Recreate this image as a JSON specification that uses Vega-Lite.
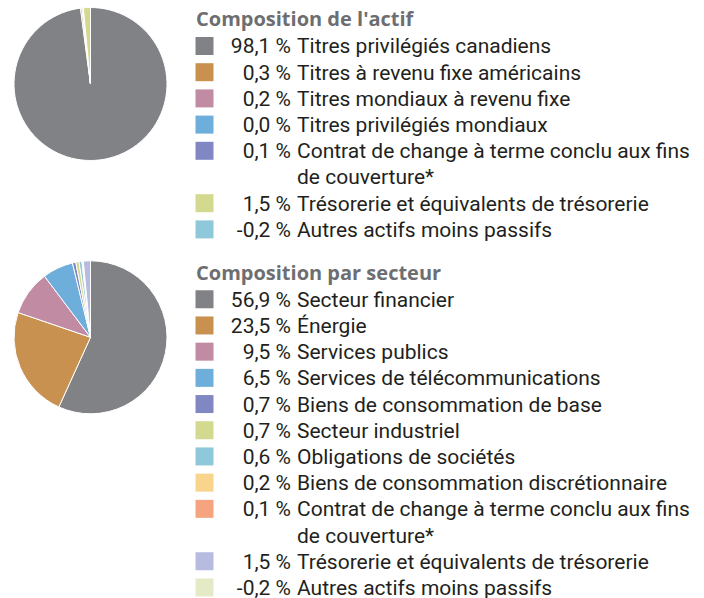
{
  "$schema": "https://vega.github.io/schema/vega-lite/v6.json",
  "padding": 0,
  "background": "white",
  "config": {
    "view": {"stroke": null},
    "font": "Roboto",
    "locale": {"number": {"decimal": ",", "thousands": " ", "grouping": [3], "currency": ["", " %"], "minus": "-"}}
  },
  "datasets": {
    "actif": [
      {"rang": 1, "categorie": "Titres privilégiés canadiens", "pct": 98.1},
      {"rang": 2, "categorie": "Titres à revenu fixe américains", "pct": 0.3},
      {"rang": 3, "categorie": "Titres mondiaux à revenu fixe", "pct": 0.2},
      {"rang": 4, "categorie": "Titres privilégiés mondiaux", "pct": 0.0},
      {"rang": 5, "categorie": "Contrat de change à terme conclu aux fins\nde couverture*", "pct": 0.1},
      {"rang": 6, "categorie": "Trésorerie et équivalents de trésorerie", "pct": 1.5},
      {"rang": 7, "categorie": "Autres actifs moins passifs", "pct": -0.2}
    ],
    "secteur": [
      {"rang": 1, "categorie": "Secteur financier", "pct": 56.9},
      {"rang": 2, "categorie": "Énergie", "pct": 23.5},
      {"rang": 3, "categorie": "Services publics", "pct": 9.5},
      {"rang": 4, "categorie": "Services de télécommunications", "pct": 6.5},
      {"rang": 5, "categorie": "Biens de consommation de base", "pct": 0.7},
      {"rang": 6, "categorie": "Secteur industriel", "pct": 0.7},
      {"rang": 7, "categorie": "Obligations de sociétés", "pct": 0.6},
      {"rang": 8, "categorie": "Biens de consommation discrétionnaire", "pct": 0.2},
      {"rang": 9, "categorie": "Contrat de change à terme conclu aux fins\nde couverture*", "pct": 0.1},
      {"rang": 10, "categorie": "Trésorerie et équivalents de trésorerie", "pct": 1.5},
      {"rang": 11, "categorie": "Autres actifs moins passifs", "pct": -0.2}
    ]
  },
  "columns": 2,
  "spacing": {"row": 11.8, "column": 0},
  "bounds": "flush",
  "resolve": {"scale": {"color": "independent", "x": "independent", "y": "independent", "theta": "independent"}},
  "concat": [
    {
      "data": {"name": "actif"},
      "width": 181,
      "height": 168,
      "transform": [{"filter": "datum.pct > 0"}],
      "mark": {"type": "arc", "outerRadius": 76.5, "stroke": "white", "strokeWidth": 1},
      "encoding": {
        "theta": {"field": "pct", "type": "quantitative", "stack": true},
        "order": {"field": "rang", "type": "quantitative"},
        "color": {"field": "categorie", "type": "nominal", "legend": null,
          "scale": {"domain": ["Titres privilégiés canadiens", "Titres à revenu fixe américains", "Titres mondiaux à revenu fixe", "Titres privilégiés mondiaux", "Contrat de change à terme conclu aux fins\nde couverture*", "Trésorerie et équivalents de trésorerie", "Autres actifs moins passifs"],
            "range": ["#818286", "#c8914f", "#c08ba3", "#6eaedb", "#8087c3", "#d3d98e", "#8fc8d8"]}}
      }
    },
    {
      "width": 136.5,
      "height": 249.2,
      "encoding": {
        "y": {"field": "rang", "type": "ordinal", "axis": null,
          "scale": {"type": "point", "domain": [0, 1, 2, 3, 4, 5, 5.5, 6, 7], "padding": 0.7557}}
      },
      "layer": [
        {
          "data": {"values": [{"rang": 0, "titre": "Composition de l'actif"}]},
          "mark": {"type": "text", "align": "left", "baseline": "alphabetic", "dx": -8.5, "dy": 6.5, "font": "Open Sans", "fontSize": 20, "fontWeight": "bold", "color": "#6d6e71"},
          "encoding": {
            "x": {"datum": "carré", "type": "nominal", "axis": null, "scale": {"type": "point", "domain": ["carré", "texte"], "padding": 0.2626}},
            "text": {"field": "titre"}
          }
        },
        {
          "data": {"name": "actif"},
          "mark": {"type": "square", "size": 324, "opacity": 1},
          "encoding": {
            "x": {"datum": "carré", "type": "nominal"},
            "color": {"field": "categorie", "type": "nominal", "legend": null,
              "scale": {"domain": ["Titres privilégiés canadiens", "Titres à revenu fixe américains", "Titres mondiaux à revenu fixe", "Titres privilégiés mondiaux", "Contrat de change à terme conclu aux fins\nde couverture*", "Trésorerie et équivalents de trésorerie", "Autres actifs moins passifs"],
                "range": ["#818286", "#c8914f", "#c08ba3", "#6eaedb", "#8087c3", "#d3d98e", "#8fc8d8"]}}
          }
        },
        {
          "data": {"name": "actif"},
          "mark": {"type": "text", "align": "right", "baseline": "alphabetic", "dx": -3, "dy": 7.5, "fontSize": 21, "color": "#231f20"},
          "encoding": {
            "x": {"datum": "texte", "type": "nominal"},
            "text": {"field": "pct", "type": "quantitative", "format": "$.1f"}
          }
        },
        {
          "data": {"name": "actif"},
          "mark": {"type": "text", "align": "left", "baseline": "alphabetic", "dx": 3, "dy": 7.5, "fontSize": 21, "lineBreak": "\n", "lineHeight": 26.2, "color": "#231f20"},
          "encoding": {
            "x": {"datum": "texte", "type": "nominal"},
            "text": {"field": "categorie"}
          }
        }
      ]
    },
    {
      "data": {"name": "secteur"},
      "width": 181,
      "height": 151,
      "transform": [{"filter": "datum.pct > 0"}],
      "mark": {"type": "arc", "outerRadius": 76.5, "stroke": "white", "strokeWidth": 1},
      "encoding": {
        "theta": {"field": "pct", "type": "quantitative", "stack": true},
        "order": {"field": "rang", "type": "quantitative"},
        "color": {"field": "categorie", "type": "nominal", "legend": null,
          "scale": {"domain": ["Secteur financier", "Énergie", "Services publics", "Services de télécommunications", "Biens de consommation de base", "Secteur industriel", "Obligations de sociétés", "Biens de consommation discrétionnaire", "Contrat de change à terme conclu aux fins\nde couverture*", "Trésorerie et équivalents de trésorerie", "Autres actifs moins passifs"],
            "range": ["#818286", "#c8914f", "#c08ba3", "#6eaedb", "#8087c3", "#d3d98e", "#8fc8d8", "#f8d48d", "#f6a47f", "#b7bbe0", "#e5eac6"]}}
      }
    },
    {
      "width": 136.5,
      "height": 336.9,
      "encoding": {
        "y": {"field": "rang", "type": "ordinal", "axis": null,
          "scale": {"type": "point", "domain": [0, 1, 2, 3, 4, 5, 6, 7, 8, 9, 9.5, 10, 11], "padding": 0.43}}
      },
      "layer": [
        {
          "data": {"values": [{"rang": 0, "titre": "Composition par secteur"}]},
          "mark": {"type": "text", "align": "left", "baseline": "alphabetic", "dx": -8.5, "dy": 6.5, "font": "Open Sans", "fontSize": 20, "fontWeight": "bold", "color": "#6d6e71"},
          "encoding": {
            "x": {"datum": "carré", "type": "nominal", "axis": null, "scale": {"type": "point", "domain": ["carré", "texte"], "padding": 0.2626}},
            "text": {"field": "titre"}
          }
        },
        {
          "data": {"name": "secteur"},
          "mark": {"type": "square", "size": 324, "opacity": 1},
          "encoding": {
            "x": {"datum": "carré", "type": "nominal"},
            "color": {"field": "categorie", "type": "nominal", "legend": null,
              "scale": {"domain": ["Secteur financier", "Énergie", "Services publics", "Services de télécommunications", "Biens de consommation de base", "Secteur industriel", "Obligations de sociétés", "Biens de consommation discrétionnaire", "Contrat de change à terme conclu aux fins\nde couverture*", "Trésorerie et équivalents de trésorerie", "Autres actifs moins passifs"],
                "range": ["#818286", "#c8914f", "#c08ba3", "#6eaedb", "#8087c3", "#d3d98e", "#8fc8d8", "#f8d48d", "#f6a47f", "#b7bbe0", "#e5eac6"]}}
          }
        },
        {
          "data": {"name": "secteur"},
          "mark": {"type": "text", "align": "right", "baseline": "alphabetic", "dx": -3, "dy": 7.5, "fontSize": 21, "color": "#231f20"},
          "encoding": {
            "x": {"datum": "texte", "type": "nominal"},
            "text": {"field": "pct", "type": "quantitative", "format": "$.1f"}
          }
        },
        {
          "data": {"name": "secteur"},
          "mark": {"type": "text", "align": "left", "baseline": "alphabetic", "dx": 3, "dy": 7.5, "fontSize": 21, "lineBreak": "\n", "lineHeight": 26.2, "color": "#231f20"},
          "encoding": {
            "x": {"datum": "texte", "type": "nominal"},
            "text": {"field": "categorie"}
          }
        }
      ]
    }
  ]
}
